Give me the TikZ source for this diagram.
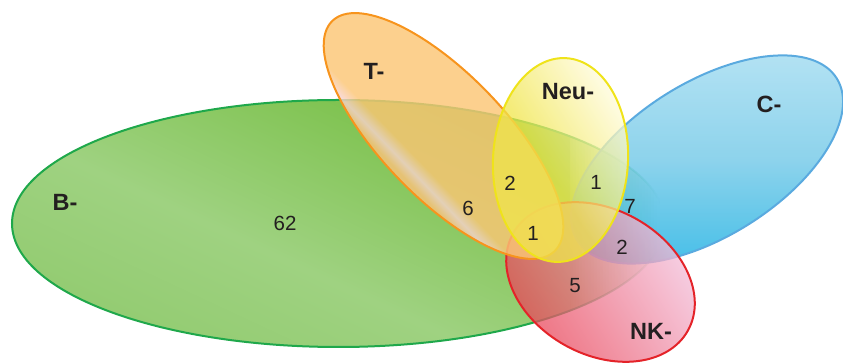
\documentclass[tikz,border=0pt]{standalone}
\usepackage{fontspec}
\setmainfont{Liberation Sans}

% fill and rim colours of the five sets
\definecolor{bDark}{HTML}{77BF44}
\definecolor{bMid}{HTML}{9FD281}
\definecolor{bLow}{HTML}{92CB70}
\definecolor{bTail}{HTML}{8CC862}
\definecolor{bEdge}{HTML}{1FA84B}
\definecolor{tOr}{HTML}{FBC675}
\definecolor{tRim}{HTML}{FBC27A}
\definecolor{tPk}{HTML}{F8D2CB}
\definecolor{tEdge}{HTML}{F7941D}
\definecolor{nA}{HTML}{F0E54B}
\definecolor{nB}{HTML}{FFFBDD}
\definecolor{nEdge}{HTML}{EFE31A}
\definecolor{cTop}{HTML}{99D8EF}
\definecolor{cMid}{HTML}{67C4E5}
\definecolor{cLow}{HTML}{07A9E0}
\definecolor{cEdge}{HTML}{5AAADF}
\definecolor{kA}{HTML}{E94558}
\definecolor{kB}{HTML}{F3BCD7}
\definecolor{kEdge}{HTML}{E42329}
\definecolor{ink}{HTML}{231F20}

\pgfdeclareverticalshading{bshade}{100bp}{color(0bp)=(bLow); color(25bp)=(bLow); color(45bp)=(bMid); color(75bp)=(bDark); color(100bp)=(bDark)}
\pgfdeclareverticalshading{tband}{100bp}{color(0bp)=(tRim); color(25bp)=(tRim); color(27bp)=(tRim); color(31bp)=(tPk); color(36bp)=(tOr); color(55bp)=(tOr); color(75bp)=(tOr); color(100bp)=(tOr)}
\pgfdeclarehorizontalshading{nshade}{100bp}{color(0bp)=(nA); color(25bp)=(nA); color(45bp)=(nA); color(75bp)=(nB); color(100bp)=(nB)}
\pgfdeclareverticalshading{cshade}{100bp}{color(0bp)=(cLow); color(25bp)=(cLow); color(50bp)=(cMid); color(75bp)=(cTop); color(100bp)=(cTop)}
\pgfdeclarehorizontalshading{kshade}{100bp}{color(0bp)=(kA); color(25bp)=(kA); color(75bp)=(kB); color(100bp)=(kB)}

\begin{document}
\begin{tikzpicture}[x=1pt,y=1pt,
  rim/.style={line width=2pt},
  veil/.style={fill opacity=.75},
  setlabel/.style={font=\fontsize{23.5}{28}\selectfont\bfseries, text=ink, inner sep=0pt},
  count/.style={font=\fontsize{20.5}{24}\selectfont, text=ink, inner sep=0pt}]
\useasboundingbox (0,0) rectangle (843,363);

% B-: solid up to x = 570, then dying away in thin strips to its right end
\def\bset{(338.5,139.5) ellipse (326.5 and 123.5)}
\begin{scope}
  \clip \bset;
  \shade[shading=bshade, shading angle=-25] (10,14) rectangle (570.5,266);
  \foreach \i in {0,...,29} {
    \pgfmathsetmacro\op{1-(\i+0.5)/30}
    \fill[bTail, fill opacity=\op] (570+3*\i,0) rectangle (573+3*\i,300);
  }
\end{scope}
\begin{scope}
  \clip (0,0) rectangle (570,363);
  \draw[rim, bEdge] \bset;
\end{scope}
\foreach \i in {0,...,29} {
  \pgfmathsetmacro\op{1-(\i+0.5)/30}
  \begin{scope}
    \clip (570+3*\i,0) rectangle (573+3*\i,363);
    \draw[rim, bEdge, draw opacity=\op] \bset;
  \end{scope}
}

% C-
\begin{scope}[transform canvas={shift={(707,203.5)}, rotate=32}]
  \shade[veil, shading=cshade, shading angle=-32] (0,0) ellipse (153 and 77);
  \draw[rim, cEdge] (0,0) ellipse (153 and 77);
\end{scope}

% NK-
\begin{scope}[transform canvas={shift={(600.5,81)}, rotate=-29}]
  \shade[veil, shading=kshade, shading angle=60] (0,0) ellipse (100 and 72.5);
  \draw[rim, kEdge] (0,0) ellipse (100 and 72.5);
\end{scope}

% T-
\begin{scope}[transform canvas={shift={(443.5,227)}, rotate=-46}]
  \shade[fill opacity=.82, shading=tband] (0,0) ellipse (160 and 62);
  \draw[rim, tEdge] (0,0) ellipse (160 and 62);
\end{scope}

% Neu-
\begin{scope}[transform canvas={shift={(560.5,203)}, rotate=-3}]
  \shade[veil, shading=nshade, shading angle=35] (0,0) ellipse (67.5 and 102);
  \draw[rim, nEdge] (0,0) ellipse (67.5 and 102);
\end{scope}

% set names
\node[setlabel] (lblB)   at (65,161)  {B-};
\node[setlabel] (lblT)   at (374,292) {T-};
\node[setlabel] (lblNeu) at (568,271) {Neu-};
\node[setlabel] (lblC)   at (769,259) {C-};
\node[setlabel] (lblNK)  at (651,32)  {NK-};

% region counts
\node[count] (n62) at (285,140) {62};
\node[count] (n6)  at (468,155) {6};
\node[count] (n2a) at (510,180) {2};
\node[count] (n1a) at (533,130) {1};
\node[count] (n1b) at (596,181) {1};
\node[count] (n7)  at (630,157) {7};
\node[count] (n2b) at (622,116) {2};
\node[count] (n5)  at (575,77)  {5};
\end{tikzpicture}
\end{document}
